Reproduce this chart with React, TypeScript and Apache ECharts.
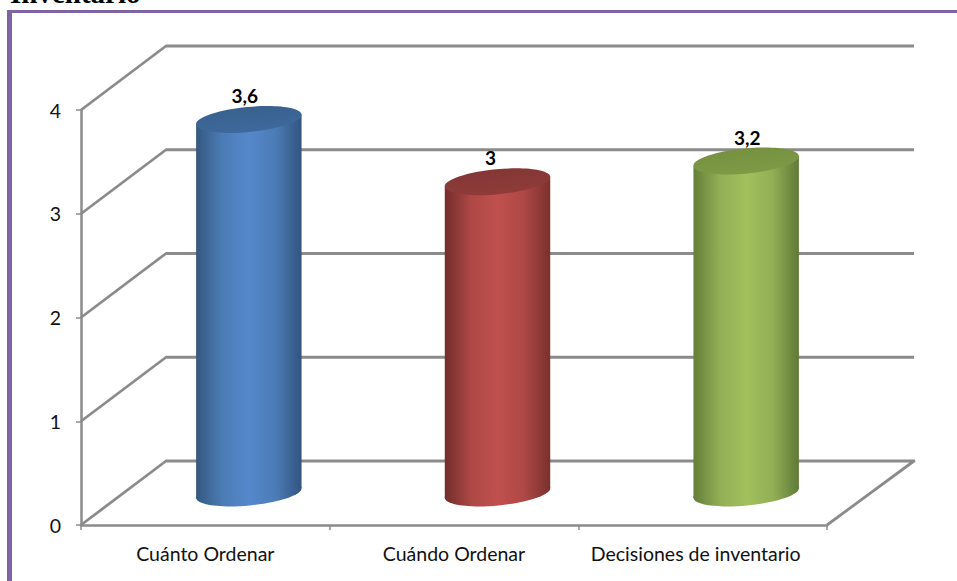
import React, { useEffect, useRef } from "react";
import * as echarts from "echarts";

const categories = ["Cuánto Ordenar", "Cuándo Ordenar", "Decisiones de inventario"];
const values = [3.6, 3, 3.2];
const gridValues = [0, 1, 2, 3, 4];
const clippedTitle = "Inventario";

const palettes = [
  { edgeL: "#34597f", mid: "#4c7cb6", center: "#5588cc", edgeR: "#325480", top: "#3f699c", topB: "#38618f" },
  { edgeL: "#722d2b", mid: "#ae4846", center: "#c0504d", edgeR: "#7a302e", top: "#8f3b39", topB: "#843735" },
  { edgeL: "#647f38", mid: "#92af56", center: "#a2c05c", edgeR: "#5f7a35", top: "#7f9a47", topB: "#76913f" },
];
const labelShift = [-4, -7, 1];

const DEPTH_X = 85;
const DEPTH_Y = 64;
const TILT_DEG = 5.4;
const LINE = "#8b8b8b";

const fmt = (v: number) => String(v).replace(".", ",");

export default function App() {
  const ref = useRef<HTMLDivElement>(null);
  useEffect(() => {
    const chart = echarts.init(ref.current!, undefined, { renderer: "svg" });
    const tilt = (TILT_DEG * Math.PI) / 180;
    const catStyle = { color: "#111", fontFamily: "Lato", fontSize: 19.5 };
    chart.setOption({
      animation: false,
      backgroundColor: "#fff",
      grid: { left: 81, right: 130, top: 110, bottom: 56 },
      graphic: [
        { type: "rect", shape: { x: 7, y: 10, width: 950, height: 3 }, style: { fill: "#8064a2" }, silent: true },
        { type: "rect", shape: { x: 7, y: 10, width: 5, height: 571 }, style: { fill: "#8064a2" }, silent: true },
        {
          type: "text",
          x: 10,
          y: -22,
          style: {
            text: clippedTitle,
            font: 'bold 29px "Liberation Serif"',
            fill: "#000",
          },
          silent: true,
        },
      ],
      xAxis: {
        type: "category",
        data: categories,
        axisLine: { lineStyle: { color: LINE, width: 2.5 } },
        axisTick: { show: true, alignWithLabel: false, length: 5, lineStyle: { color: LINE, width: 1.5 } },
        axisLabel: {
          ...catStyle,
          margin: 18,
          interval: 0,
          hideOverlap: false,
          formatter: (v: string) => (v === categories[2] ? `{last|${v}}` : v),
          rich: { last: { ...catStyle, padding: [0, 14, 0, 0] } },
        },
      },
      yAxis: {
        type: "value",
        min: 0,
        max: 4,
        interval: 1,
        splitLine: { show: false },
        axisLine: { show: true, lineStyle: { color: LINE, width: 2.5 } },
        axisTick: { show: true, length: 5, lineStyle: { color: LINE, width: 1.5 } },
        axisLabel: { color: "#111", fontFamily: "Lato", fontSize: 19.5, margin: 20 },
      },
      series: [
        {
          type: "custom",
          coordinateSystem: "cartesian2d",
          clip: false,
          silent: true,
          z: 1,
          data: gridValues.map((v) => [0, v]),
          renderItem: (params: any, api: any) => {
            const cs = params.coordSys;
            const y = api.coord([0, api.value(1)])[1];
            const points: number[][] = [
              [cs.x, y],
              [cs.x + DEPTH_X, y - DEPTH_Y],
              [cs.x + cs.width + DEPTH_X + 2, y - DEPTH_Y],
            ];
            if (api.value(1) === 0) points.push([cs.x + cs.width, y]);
            return {
              type: "polyline",
              shape: { points },
              style: { stroke: LINE, lineWidth: 2.8, fill: "none", lineJoin: "round" },
            };
          },
        },
        {
          type: "custom",
          coordinateSystem: "cartesian2d",
          clip: false,
          silent: true,
          z: 2,
          data: values.map((v, i) => [i, v]),
          renderItem: (params: any, api: any) => {
            const i = api.value(0);
            const p = palettes[i];
            const [fx, topFy] = api.coord([i, api.value(1)]);
            const baseFy = api.coord([i, 0])[1];
            const cx = fx + DEPTH_X / 2 + 1;
            const topY = topFy - DEPTH_Y / 2;
            const baseY = baseFy - DEPTH_Y / 2;
            const w = api.size([1, 0])[0] * 0.424;
            const rx = w / 2;
            const ry = 12.5;
            const dy = rx * Math.tan(tilt);
            const body = new echarts.graphic.LinearGradient(0, 0, 1, 0, [
              { offset: 0, color: p.edgeL },
              { offset: 0.25, color: p.mid },
              { offset: 0.5, color: p.center },
              { offset: 0.75, color: p.mid },
              { offset: 1, color: p.edgeR },
            ]);
            const cap = new echarts.graphic.LinearGradient(0, 0, 0, 1, [
              { offset: 0, color: p.topB },
              { offset: 1, color: p.top },
            ]);
            const ellipse = (cy: number, fill: any) => ({
              type: "ellipse",
              x: cx,
              y: cy,
              rotation: tilt,
              shape: { cx: 0, cy: 0, rx: rx / Math.cos(tilt), ry },
              style: { fill },
            });
            return {
              type: "group",
              children: [
                ellipse(baseY, body),
                {
                  type: "polygon",
                  shape: {
                    points: [
                      [cx - rx, topY + dy],
                      [cx + rx, topY - dy],
                      [cx + rx, baseY - dy],
                      [cx - rx, baseY + dy],
                    ],
                  },
                  style: { fill: body },
                },
                ellipse(topY, cap),
                {
                  type: "text",
                  x: cx + labelShift[i],
                  y: topY - 24,
                  style: {
                    text: fmt(api.value(1)),
                    font: 'bold 19px "Lato"',
                    fill: "#000",
                    align: "center",
                    verticalAlign: "middle",
                  },
                },
              ],
            };
          },
        },
      ],
    });
    return () => chart.dispose();
  }, []);
  return <div ref={ref} style={{ position: "absolute", left: 0, top: 0, width: 957, height: 581 }} />;
}
